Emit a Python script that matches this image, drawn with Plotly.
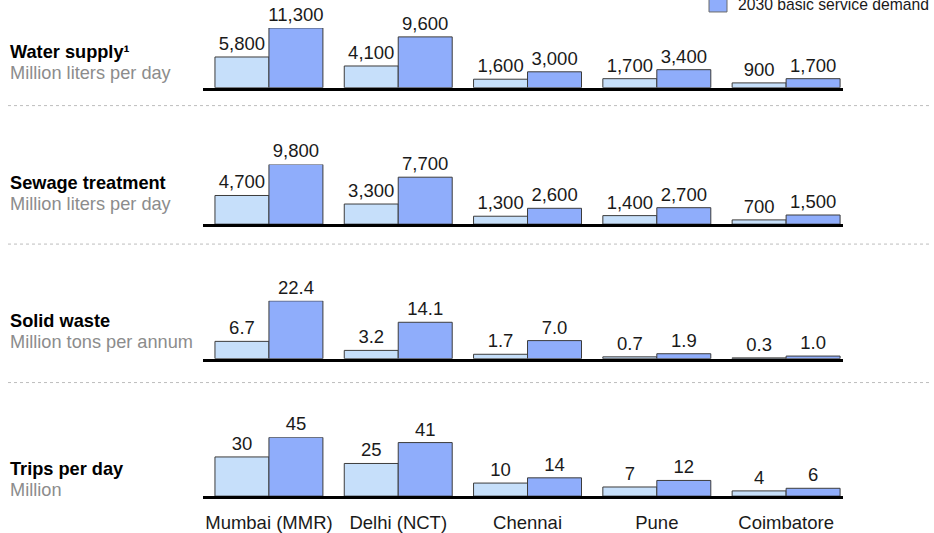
import plotly.graph_objects as go

# ---- data ----
cities = ["Mumbai (MMR)", "Delhi (NCT)", "Chennai", "Pune", "Coimbatore"]

water_now = [5800, 4100, 1600, 1700, 900]
water_2030 = [11300, 9600, 3000, 3400, 1700]

sewage_now = [4700, 3300, 1300, 1400, 700]
sewage_2030 = [9800, 7700, 2600, 2700, 1500]

waste_now = [6.7, 3.2, 1.7, 0.7, 0.3]
waste_2030 = [22.4, 14.1, 7.0, 1.9, 1.0]

trips_now = [30, 25, 10, 7, 4]
trips_2030 = [45, 41, 14, 12, 6]

panel_titles = ["Water supply¹", "Sewage treatment", "Solid waste", "Trips per day"]
panel_units = ["Million liters per day", "Million liters per day",
               "Million tons per annum", "Million"]
label_formats = ["{:,.0f}", "{:,.0f}", "{:.1f}", "{:.0f}"]
legend_label = "2030 basic service demand"

panels = [
    (water_now, water_2030),
    (sewage_now, sewage_2030),
    (waste_now, waste_2030),
    (trips_now, trips_2030),
]

# ---- layout constants (pixels) ----
W, H = 934, 533
BASELINES = [88, 225, 360, 498]
BAR_SPANS = [60, 60, 58, 59]
SEPARATORS = [106, 245, 384]
TITLE_DY = [-36, -41, -38, -27]
UNIT_GAP = 21
X_LEFT, X_RIGHT = 203, 843

LIGHT = "#c6dffa"
DARK = "#8fadfb"
OUTLINE = "#3c3c3c"
FONT = "Liberation Sans, Arial, sans-serif"


def py(p):
    return 1 - p / H


def px(p):
    return p / W


fig = go.Figure()
layout = {}
annotations = []
shapes = []

for i, ((now, future), fmt) in enumerate(zip(panels, label_formats)):
    n = i + 1
    xa = "x" if n == 1 else f"x{n}"
    ya = "y" if n == 1 else f"y{n}"
    for vals, color in ((now, LIGHT), (future, DARK)):
        fig.add_trace(go.Bar(
            x=cities, y=vals, xaxis=xa, yaxis=ya,
            marker=dict(color=color, line=dict(color=OUTLINE, width=1)),
            text=[fmt.format(v) for v in vals],
            textposition="outside", cliponaxis=False, constraintext="none",
            textfont=dict(family=FONT, size=18.5, color="#1a1a1a"),
            showlegend=False, hoverinfo="skip",
        ))
    base = BASELINES[i]
    top_val = max(future)
    layout[f"xaxis{'' if n == 1 else n}"] = dict(
        domain=[px(X_LEFT), px(X_RIGHT)],
        anchor=ya, range=[-0.51, 4.44], type="category",
        showline=True, linewidth=3, linecolor="black",
        showgrid=False, zeroline=False, ticks="",
        showticklabels=(n == 4), ticklabelstandoff=8,
        tickfont=dict(family=FONT, size=18.5, color="#1a1a1a"),
        fixedrange=True,
    )
    layout[f"yaxis{'' if n == 1 else n}"] = dict(
        domain=[py(base), py(base - BAR_SPANS[i])],
        anchor=xa, range=[0, top_val],
        visible=False, fixedrange=True,
    )
    annotations.append(dict(
        text=f"<b>{panel_titles[i]}</b>", xref="paper", yref="paper",
        x=px(8), y=py(base + TITLE_DY[i]), xanchor="left", yanchor="middle",
        showarrow=False, font=dict(family=FONT, size=18.2, color="#000000"),
    ))
    annotations.append(dict(
        text=panel_units[i], xref="paper", yref="paper",
        x=px(8), y=py(base + TITLE_DY[i] + UNIT_GAP), xanchor="left",
        yanchor="middle", showarrow=False,
        font=dict(family=FONT, size=18.2, color="#8c8c8c"),
    ))

for s in SEPARATORS:
    shapes.append(dict(type="line", xref="paper", yref="paper",
                       x0=px(8), x1=px(930), y0=py(s), y1=py(s),
                       line=dict(color="#bdbdbd", width=1, dash="dot")))

# legend key (top right)
shapes.append(dict(type="rect", xref="paper", yref="paper",
                   x0=px(709), x1=px(727), y0=py(12), y1=py(-6),
                   fillcolor=DARK, line=dict(color="#6b6b6b", width=1)))
annotations.append(dict(
    text=legend_label, xref="paper", yref="paper",
    x=px(736), y=py(5), xanchor="left", yanchor="middle", showarrow=False,
    font=dict(family=FONT, size=15.7, color="#1a1a1a"),
))

fig.update_layout(
    width=W, height=H,
    margin=dict(l=0, r=0, t=0, b=0),
    paper_bgcolor="white", plot_bgcolor="white",
    barmode="group", bargap=0.165, bargroupgap=0,
    annotations=annotations, shapes=shapes,
    **layout,
)

fig.write_html("out.html", config={"displayModeBar": False})
